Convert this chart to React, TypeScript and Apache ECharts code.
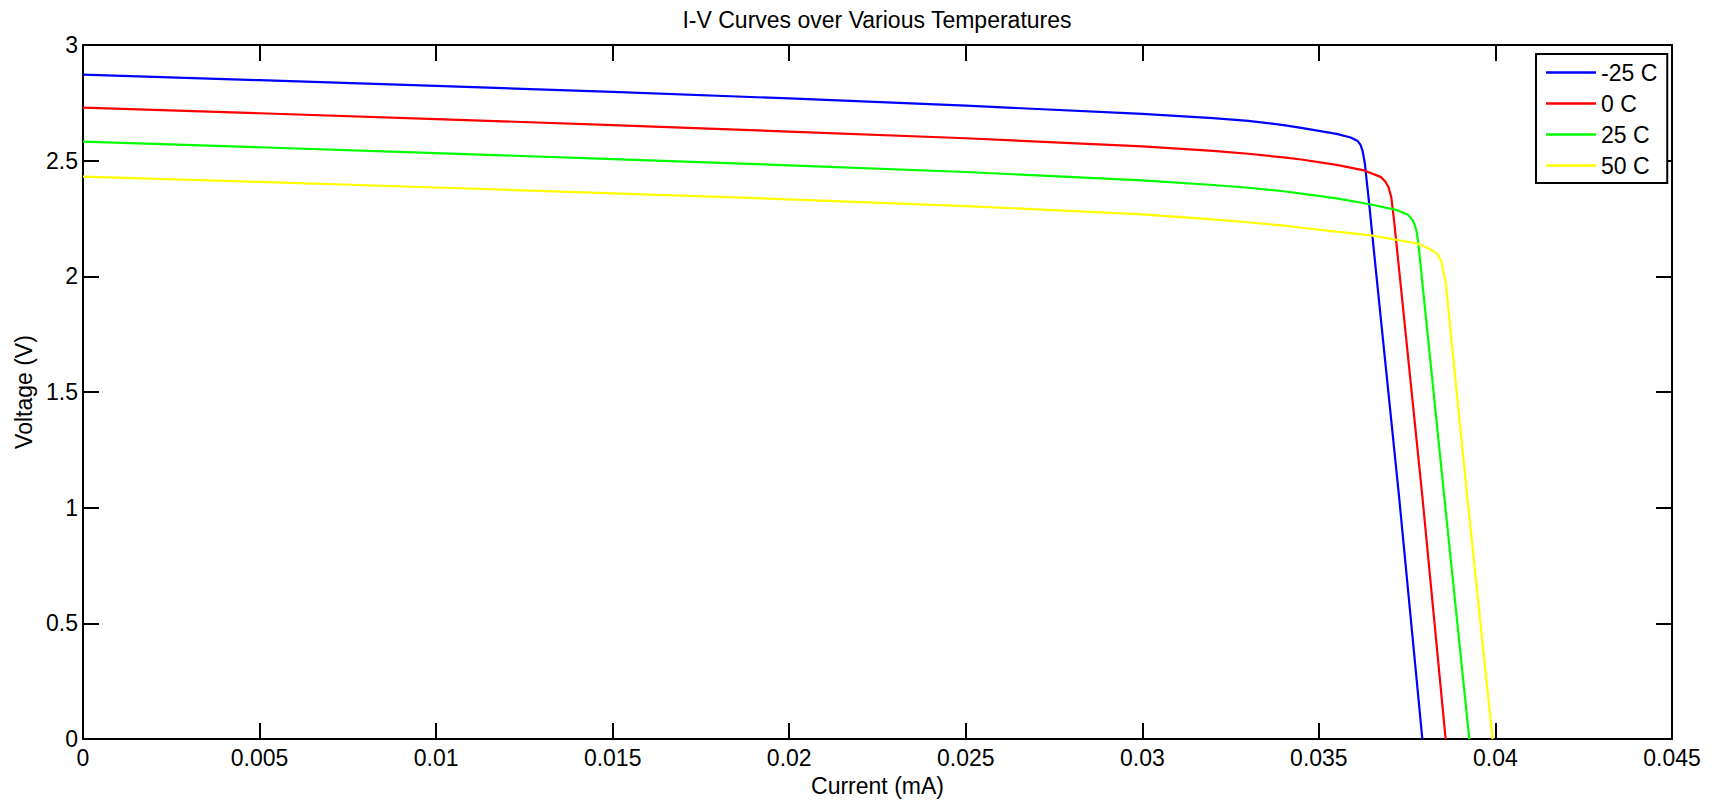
import React, { useEffect, useRef } from "react";
import * as echarts from "echarts";

const chartTitle = "I-V Curves over Various Temperatures";
const xAxisName = "Current (mA)";
const yAxisName = "Voltage (V)";
const seriesNames = ["-25 C", "0 C", "25 C", "50 C"];
const seriesColors = ["#0000ff", "#ff0000", "#00ff00", "#ffff00"];

// [current (mA), voltage (V)]
const curveMinus25: [number, number][] = [
  [0, 2.872], [0.005, 2.848], [0.01, 2.823], [0.015, 2.797], [0.02, 2.769],
  [0.025, 2.738], [0.03, 2.702], [0.032, 2.684], [0.033, 2.672], [0.034, 2.654],
  [0.0345, 2.642], [0.0355, 2.616], [0.0359, 2.600], [0.0361, 2.585], [0.03618, 2.568],
  [0.03624, 2.540], [0.0363, 2.490], [0.03642, 2.320], [0.03661, 2.032], [0.03727, 1.049],
  [0.03793, 0],
];
const curve0: [number, number][] = [
  [0, 2.729], [0.005, 2.705], [0.01, 2.680], [0.015, 2.654], [0.02, 2.626],
  [0.025, 2.597], [0.03, 2.562], [0.032, 2.542], [0.033, 2.530], [0.034, 2.514],
  [0.0345, 2.505], [0.0355, 2.482], [0.03628, 2.458], [0.03675, 2.430], [0.03688, 2.410],
  [0.03697, 2.386], [0.03705, 2.342], [0.03713, 2.240], [0.03727, 2.032], [0.03793, 1.049],
  [0.03859, 0],
];
const curve25: [number, number][] = [
  [0, 2.582], [0.005, 2.558], [0.01, 2.533], [0.015, 2.507], [0.02, 2.480],
  [0.025, 2.451], [0.03, 2.415], [0.032, 2.395], [0.033, 2.383], [0.034, 2.368],
  [0.0345, 2.358], [0.0355, 2.337], [0.03637, 2.314], [0.03722, 2.286], [0.03752, 2.266],
  [0.03766, 2.242], [0.03776, 2.200], [0.03782, 2.140], [0.03789, 2.032], [0.03855, 1.049],
  [0.03926, 0],
];
const curve50: [number, number][] = [
  [0, 2.431], [0.005, 2.408], [0.01, 2.384], [0.015, 2.359], [0.02, 2.333],
  [0.025, 2.304], [0.03, 2.268], [0.032, 2.246], [0.033, 2.234], [0.034, 2.219],
  [0.0345, 2.210], [0.0355, 2.193], [0.03647, 2.177], [0.03779, 2.142], [0.03815, 2.118],
  [0.03836, 2.096], [0.03848, 2.060], [0.03854, 2.010], [0.03859, 1.975], [0.0392, 1.049],
  [0.03992, 0],
];
const curves = [curveMinus25, curve0, curve25, curve50];

const FONT = "'Liberation Sans', Arial, sans-serif";
const FS = 23;

export default function App() {
  const ref = useRef<HTMLDivElement>(null);
  useEffect(() => {
    if (!ref.current) return;
    const chart = echarts.init(ref.current, undefined, { renderer: "svg" });
    const axisLineStyle = { color: "#000", width: 2 };
    const tick = { show: true, inside: true, length: 16, lineStyle: { color: "#000", width: 2 } };
    chart.setOption({
      animation: false,
      backgroundColor: "#fff",
      textStyle: { fontFamily: FONT },
      title: {
        text: chartTitle,
        left: 877,
        textAlign: "center",
        top: 8,
        padding: 0,
        textStyle: { fontFamily: FONT, fontSize: FS, fontWeight: "normal", color: "#000" },
      },
      legend: {
        orient: "vertical",
        left: 1536,
        top: 54,
        padding: [7, 10, 6, 10],
        icon: "rect",
        itemWidth: 50,
        itemHeight: 2.5,
        itemGap: 8,
        borderColor: "#000",
        borderWidth: 2,
        backgroundColor: "#fff",
        textStyle: { fontFamily: FONT, fontSize: FS, color: "#000" },
        data: seriesNames,
      },
      grid: { left: 83, right: 46, top: 45, bottom: 60, containLabel: false },
      xAxis: [
        {
          type: "value",
          min: 0,
          max: 0.045,
          interval: 0.005,
          name: xAxisName,
          nameLocation: "middle",
          nameGap: 34,
          nameTextStyle: { fontFamily: FONT, fontSize: FS, color: "#000" },
          axisLine: { show: true, onZero: false, lineStyle: axisLineStyle },
          axisTick: tick,
          axisLabel: { fontFamily: FONT, fontSize: FS, color: "#000", margin: 7 },
          splitLine: { show: false },
        },
        {
          type: "value",
          position: "top",
          min: 0,
          max: 0.045,
          interval: 0.005,
          axisLine: { show: true, onZero: false, lineStyle: axisLineStyle },
          axisTick: tick,
          axisLabel: { show: false },
          splitLine: { show: false },
        },
      ],
      yAxis: [
        {
          type: "value",
          min: 0,
          max: 3,
          interval: 0.5,
          name: yAxisName,
          nameLocation: "middle",
          nameGap: 48,
          nameTextStyle: { fontFamily: FONT, fontSize: FS, color: "#000" },
          axisLine: { show: true, onZero: false, lineStyle: axisLineStyle },
          axisTick: tick,
          axisLabel: { fontFamily: FONT, fontSize: FS, color: "#000", margin: 5 },
          splitLine: { show: false },
        },
        {
          type: "value",
          position: "right",
          min: 0,
          max: 3,
          interval: 0.5,
          axisLine: { show: true, onZero: false, lineStyle: axisLineStyle },
          axisTick: tick,
          axisLabel: { show: false },
          splitLine: { show: false },
        },
      ],
      series: curves.map((data, i) => ({
        type: "line",
        name: seriesNames[i],
        data,
        xAxisIndex: 0,
        yAxisIndex: 0,
        symbol: "none",
        showSymbol: false,
        smooth: false,
        color: seriesColors[i],
        lineStyle: { color: seriesColors[i], width: 2.2 },
      })),
    });
    return () => chart.dispose();
  }, []);
  return (
    <div
      ref={ref}
      style={{ position: "fixed", left: 0, top: 0, width: 1718, height: 802 }}
    />
  );
}
